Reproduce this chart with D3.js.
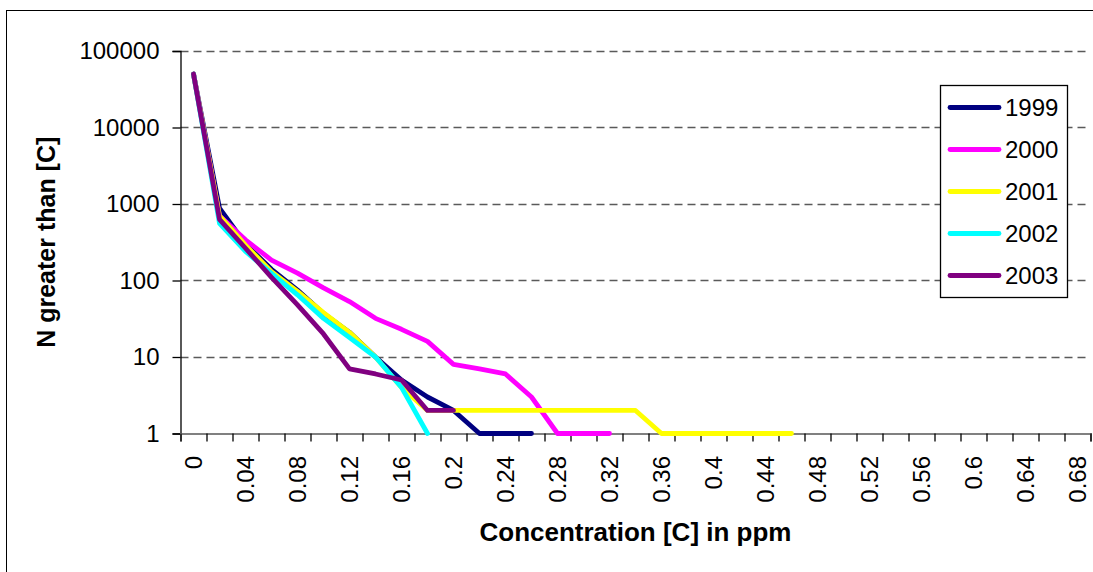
<!DOCTYPE html>
<html>
<head>
<meta charset="utf-8">
<script src="https://cdn.jsdelivr.net/npm/d3@7"></script>
<style>
    body { margin: 0; background: #fff; }
    text { font-family: "Liberation Sans", Arial, sans-serif; fill: #000; }
</style>
</head>
<body>
<div id="chart"></div>
<script>
// concentration categories (ppm)
var categories = [0, 0.02, 0.04, 0.06, 0.08, 0.1, 0.12, 0.14, 0.16, 0.18,
    0.2, 0.22, 0.24, 0.26, 0.28, 0.3, 0.32, 0.34, 0.36, 0.38,
    0.4, 0.42, 0.44, 0.46, 0.48, 0.5, 0.52, 0.54, 0.56, 0.58,
    0.6, 0.62, 0.64, 0.66, 0.68];

var years = ["1999", "2000", "2001", "2002", "2003"];

// N greater than [C], one value per category (series stop where the data stops)
var n1999 = [50000, 880, 300, 140, 75, 37, 21, 10, 5, 3, 2, 1, 1, 1];
var n2000 = [50000, 700, 340, 185, 125, 80, 53, 32, 23, 16, 8, 7, 6, 3, 1, 1, 1];
var n2001 = [50000, 700, 290, 130, 72, 38, 21, 10, 4, 2, 2, 2, 2, 2, 2, 2, 2, 2, 1, 1, 1, 1, 1, 1];
var n2002 = [50000, 560, 240, 124, 65, 32, 18, 10, 4, 1];
var n2003 = [50000, 630, 264, 110, 48, 20, 7, 6, 5, 2, 2];

var yTicks = [1, 10, 100, 1000, 10000, 100000];

var colors = ["#000080", "#FF00FF", "#FFFF00", "#00FFFF", "#800080"];

var series = [n1999, n2000, n2001, n2002, n2003];

var width = 1093,
    height = 572;

// plot area (window.top is reserved, so plotTop etc.)
var plotLeft = 180.5,
    plotTop = 51,
    plotBottom = 433.5,
    step = 26.0,
    plotRight = plotLeft + step * categories.length;

var svg = d3.select("#chart")
    .append("svg")
    .attr("width", width)
    .attr("height", height);

// outer chart border (runs off the picture on the right and bottom)
svg.append("rect")
    .attr("x", 6.5)
    .attr("y", 10.5)
    .attr("width", 1200)
    .attr("height", 700)
    .attr("fill", "#fff")
    .attr("stroke", "#000")
    .attr("stroke-width", 1);

var x = d3.scaleBand()
    .domain(categories)
    .range([plotLeft, plotRight])
    .padding(0);

var xEdge = d3.scaleLinear()
    .domain([0, categories.length])
    .range([plotLeft, plotRight]);

var y = d3.scaleLog()
    .domain([1, 100000])
    .range([plotBottom, plotTop]);

// dashed gridlines
svg.append("g")
    .selectAll("line")
    .data(yTicks.filter(function (d) { return d > 1; }))
    .enter().append("line")
    .attr("x1", plotLeft)
    .attr("x2", plotRight)
    .attr("y1", function (d) { return Math.round(y(d)) + 0.5; })
    .attr("y2", function (d) { return Math.round(y(d)) + 0.5; })
    .attr("stroke", "#5a5a5a")
    .attr("stroke-width", 1.4)
    .attr("stroke-dasharray", "8,5");

// y axis
var yAxis = svg.append("g")
    .attr("transform", "translate(" + plotLeft + ",0)")
    .call(d3.axisLeft(y)
        .tickValues(yTicks)
        .tickFormat(d3.format("d"))
        .tickSize(8)
        .tickPadding(13));

yAxis.select(".domain").attr("stroke", "#000").attr("stroke-width", 1.3);
yAxis.selectAll(".tick line").attr("stroke", "#000").attr("stroke-width", 1.3);
yAxis.selectAll("text")
    .style("font-size", "24px")
    .style("font-family", "'Liberation Sans', Arial, sans-serif");

// x axis: tick marks between categories
var xTicks = svg.append("g")
    .attr("transform", "translate(0," + plotBottom + ")")
    .call(d3.axisBottom(xEdge)
        .tickValues(d3.range(categories.length + 1))
        .tickFormat("")
        .tickSizeOuter(0)
        .tickSize(8));

xTicks.select(".domain").attr("stroke", "#808080").attr("stroke-width", 2);
xTicks.selectAll(".tick line").attr("stroke", "#000").attr("stroke-width", 1.3);

// x labels, every other category, rotated
svg.append("g")
    .selectAll("text")
    .data(categories.filter(function (d, i) { return i % 2 === 0; }))
    .enter().append("text")
    .attr("transform", function (d) {
        return "translate(" + (x(d) + x.bandwidth() / 2) + ",456) rotate(-90)";
    })
    .attr("text-anchor", "end")
    .attr("dy", "0.35em")
    .style("font-size", "24px")
    .text(function (d) { return String(d); });

// lines
var line = d3.line()
    .x(function (d, i) { return x(categories[i]) + x.bandwidth() / 2; })
    .y(function (d) { return y(d); });

svg.append("g")
    .selectAll("path")
    .data(series)
    .enter().append("path")
    .attr("d", line)
    .attr("fill", "none")
    .attr("stroke", function (d, i) { return colors[i]; })
    .attr("stroke-width", 4.8)
    .attr("stroke-linejoin", "round")
    .attr("stroke-linecap", "round");

// axis titles
svg.append("text")
    .attr("x", (plotLeft + plotRight) / 2)
    .attr("y", 541)
    .attr("text-anchor", "middle")
    .style("font-size", "26px")
    .style("font-weight", "bold")
    .text("Concentration [C] in ppm");

svg.append("text")
    .attr("transform", "translate(55," + (plotTop + plotBottom) / 2 + ") rotate(-90)")
    .attr("text-anchor", "middle")
    .style("font-size", "25px")
    .style("font-weight", "bold")
    .text("N greater than [C]");

// legend
var legend = svg.append("g");

legend.append("rect")
    .attr("x", 940.5)
    .attr("y", 85.5)
    .attr("width", 127)
    .attr("height", 212)
    .attr("fill", "#fff")
    .attr("stroke", "#000")
    .attr("stroke-width", 1.3);

var item = legend.selectAll(".item")
    .data(years)
    .enter().append("g")
    .attr("class", "item")
    .attr("transform", function (d, i) {
        return "translate(0," + (107.5 + i * 42) + ")";
    });

item.append("line")
    .attr("x1", 950)
    .attr("x2", 999)
    .attr("stroke", function (d, i) { return colors[i]; })
    .attr("stroke-width", 4.8)
    .attr("stroke-linecap", "round");

item.append("text")
    .attr("x", 1005)
    .attr("dy", "0.35em")
    .style("font-size", "24px")
    .text(function (d) { return d; });
</script>
</body>
</html>
